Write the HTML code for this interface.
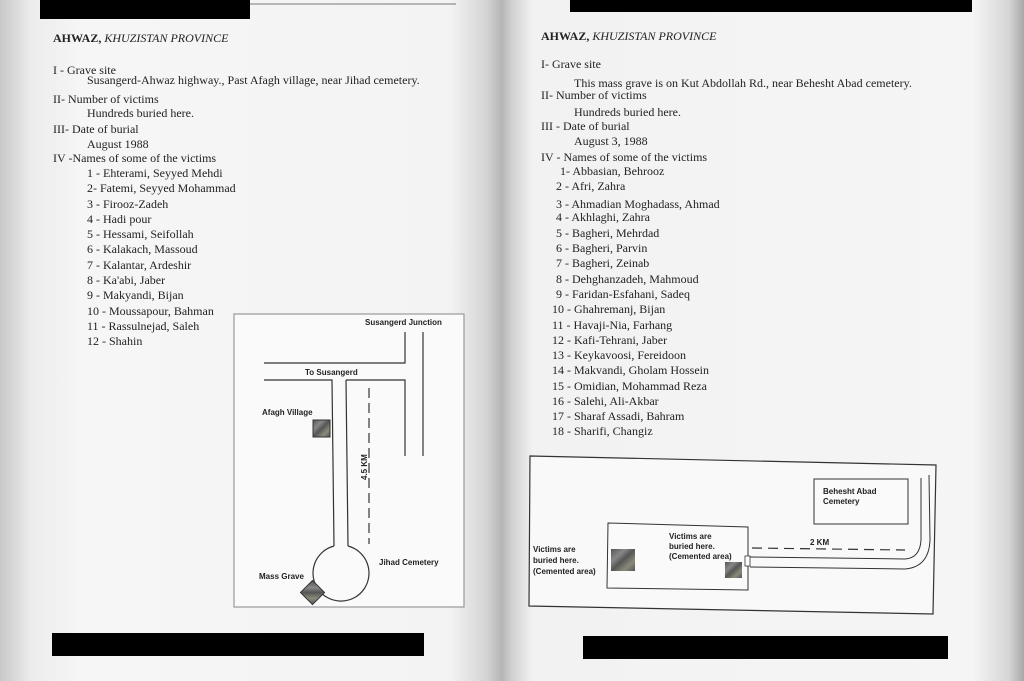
<!DOCTYPE html>
<html><head><meta charset="utf-8"><style>
html,body{margin:0;padding:0;background:#fff}
svg{display:block}
.s{font-family:"Liberation Serif",serif;font-size:12px;fill:#222}
.m{font-family:"Liberation Sans",sans-serif;font-size:8px;font-weight:bold;fill:#222}
</style></head><body>
<svg width="1024" height="681" viewBox="0 0 1024 681" xmlns="http://www.w3.org/2000/svg">
<defs>
<linearGradient id="bg" x1="0" x2="1" y1="0" y2="0">
<stop offset="0" stop-color="#c8c8c8"/>
<stop offset="0.03" stop-color="#ececec"/>
<stop offset="0.08" stop-color="#f6f6f6"/>
<stop offset="0.44" stop-color="#f3f3f3"/>
<stop offset="0.475" stop-color="#d4d4d4"/>
<stop offset="0.49" stop-color="#b5b5b5"/>
<stop offset="0.5" stop-color="#d0d0d0"/>
<stop offset="0.52" stop-color="#f2f2f2"/>
<stop offset="0.95" stop-color="#f5f5f5"/>
<stop offset="0.985" stop-color="#d6d6d6"/>
<stop offset="1" stop-color="#a8a8a8"/>
</linearGradient>
<linearGradient id="hat" x1="0" y1="0" x2="1" y2="1">
<stop offset="0" stop-color="#555"/><stop offset="0.3" stop-color="#888"/><stop offset="0.5" stop-color="#555"/><stop offset="0.75" stop-color="#8a8a7a"/><stop offset="1" stop-color="#555"/>
</linearGradient>
</defs>
<rect width="1024" height="681" fill="url(#bg)"/>
<rect x="40" y="0" width="210" height="19" fill="#000"/>
<line x1="250" y1="4" x2="456" y2="4" stroke="#777" stroke-width="1"/>
<rect x="570" y="0" width="402" height="12" fill="#000"/>
<rect x="52" y="633" width="372" height="23" fill="#000"/>
<rect x="583" y="636" width="365" height="23" fill="#000"/>

<g class="s">
<text x="53" y="42" font-weight="bold">AHWAZ, <tspan font-style="italic" font-weight="normal">KHUZISTAN PROVINCE</tspan></text>
<text x="53" y="74">I - Grave site</text>
<text x="87" y="84">Susangerd-Ahwaz highway., Past Afagh village, near Jihad cemetery.</text>
<text x="53" y="103">II- Number of victims</text>
<text x="87" y="117">Hundreds buried here.</text>
<text x="53" y="133">III- Date of burial</text>
<text x="87" y="148">August 1988</text>
<text x="53" y="162">IV -Names of some of the victims</text>
<text x="87" y="177">1 - Ehterami, Seyyed Mehdi</text>
<text x="87" y="192">2- Fatemi, Seyyed Mohammad</text>
<text x="87" y="208">3 - Firooz-Zadeh</text>
<text x="87" y="223">4 - Hadi pour</text>
<text x="87" y="238">5 - Hessami, Seifollah</text>
<text x="87" y="253">6 - Kalakach, Massoud</text>
<text x="87" y="269">7 - Kalantar, Ardeshir</text>
<text x="87" y="284">8 - Ka'abi, Jaber</text>
<text x="87" y="299">9 - Makyandi, Bijan</text>
<text x="87" y="315">10 - Moussapour, Bahman</text>
<text x="87" y="330">11 - Rassulnejad, Saleh</text>
<text x="87" y="345">12 - Shahin</text>
</g>

<g class="s">
<text x="541" y="40" font-weight="bold">AHWAZ, <tspan font-style="italic" font-weight="normal">KHUZISTAN PROVINCE</tspan></text>
<text x="541" y="68">I- Grave site</text>
<text x="574" y="87">This mass grave is on Kut Abdollah Rd., near Behesht Abad cemetery.</text>
<text x="541" y="99">II- Number of victims</text>
<text x="574" y="116">Hundreds buried here.</text>
<text x="541" y="130">III - Date of burial</text>
<text x="574" y="145">August 3, 1988</text>
<text x="541" y="161">IV - Names of some of the victims</text>
<text x="560" y="175">1- Abbasian, Behrooz</text>
<text x="556" y="190">2 - Afri, Zahra</text>
<text x="556" y="208">3 - Ahmadian Moghadass, Ahmad</text>
<text x="556" y="221">4 - Akhlaghi, Zahra</text>
<text x="556" y="237">5 - Bagheri, Mehrdad</text>
<text x="556" y="252">6 - Bagheri, Parvin</text>
<text x="556" y="267">7 - Bagheri, Zeinab</text>
<text x="556" y="283">8 - Dehghanzadeh, Mahmoud</text>
<text x="556" y="298">9 - Faridan-Esfahani, Sadeq</text>
<text x="552" y="313">10 - Ghahremanj, Bijan</text>
<text x="552" y="329">11 - Havaji-Nia, Farhang</text>
<text x="552" y="344">12 - Kafi-Tehrani, Jaber</text>
<text x="552" y="359">13 - Keykavoosi, Fereidoon</text>
<text x="552" y="374">14 - Makvandi, Gholam Hossein</text>
<text x="552" y="390">15 - Omidian, Mohammad Reza</text>
<text x="552" y="405">16 - Salehi, Ali-Akbar</text>
<text x="552" y="420">17 - Sharaf Assadi, Bahram</text>
<text x="552" y="435">18 - Sharifi, Changiz</text>
</g>

<g fill="none" stroke="#333" stroke-width="1.2">
<rect x="234" y="314" width="230" height="293" fill="#fafafa" stroke="#999"/>
<polyline points="264,363 405,363 405,332"/>
<line x1="423" y1="332" x2="423" y2="456"/>
<polyline points="264,380 332,380 334,546"/>
<polyline points="346,380 405,380 405,456"/>
<line x1="346" y1="380" x2="348" y2="546"/>
<line x1="369" y1="388" x2="369" y2="544" stroke-dasharray="10,5"/>
<path d="M334,546 A28,28 0 1 0 348,546"/>
</g>
<rect x="313" y="420" width="17" height="17" fill="url(#hat)" stroke="#333"/>
<rect x="304" y="584" width="17" height="17" fill="url(#hat)" stroke="#333" transform="rotate(45 312.5 592.5)"/>
<g class="m">
<text x="365" y="325">Susangerd Junction</text>
<text x="305" y="375">To Susangerd</text>
<text x="262" y="415">Afagh Village</text>
<text x="379" y="565">Jihad Cemetery</text>
<text x="259" y="579">Mass Grave</text>
<text transform="translate(367,480) rotate(-90)">4.5 KM</text>
</g>

<g fill="none" stroke="#333" stroke-width="1.2">
<polygon points="530,456 936,465 933,614 529,606" fill="#f9f9f9"/>
<rect x="814" y="479" width="94" height="45" fill="#fafafa" stroke-width="1"/>
<polygon points="608,523 748,527 748,590 607,588" fill="#fafafa" stroke-width="1"/>
<line x1="752" y1="548" x2="905" y2="550" stroke-dasharray="10,6"/>
<path d="M750,557 L905,559 Q920,558 921,540 L921,478" stroke-width="1"/>
<path d="M750,567 L905,569 Q929,567 930,540 L929,475" stroke-width="1"/>
<rect x="745" y="556" width="5" height="10" fill="#fff" stroke-width="0.8"/>
</g>
<rect x="611" y="549" width="24" height="22" fill="url(#hat)"/>
<rect x="725" y="562" width="17" height="16" fill="url(#hat)"/>
<g class="m">
<text x="823" y="494">Behesht Abad</text>
<text x="823" y="504">Cemetery</text>
<text x="669" y="539">Victims are</text>
<text x="669" y="549">buried here.</text>
<text x="669" y="559">(Cemented area)</text>
<text x="533" y="552">Victims are</text>
<text x="533" y="563">buried here.</text>
<text x="533" y="574">(Cemented area)</text>
<text x="810" y="545">2 KM</text>
</g>
</svg>
</body></html>
